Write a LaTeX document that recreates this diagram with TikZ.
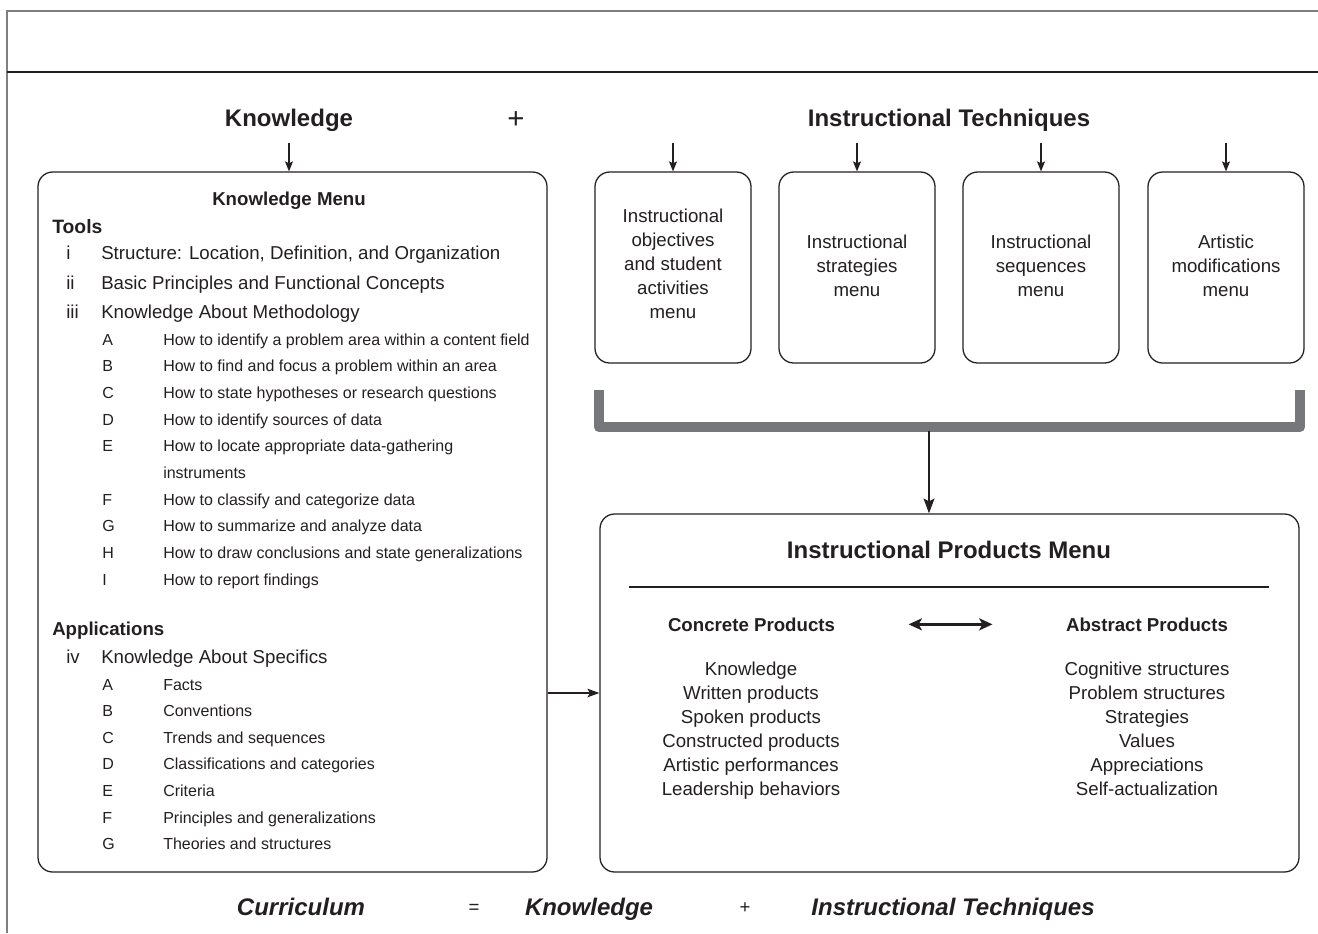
\documentclass[tikz,border=0pt]{standalone}
\usepackage{fontspec}
\setmainfont{Liberation Sans}
\usetikzlibrary{arrows.meta}
\definecolor{ink}{HTML}{231F20}
\definecolor{bar}{HTML}{76777A}
\definecolor{framegray}{HTML}{7F7F7F}
\begin{document}
\begin{tikzpicture}[x=0.75pt,y=-0.75pt,
  every node/.style={inner sep=0pt, text=ink},
  menubox/.style={draw=ink, line width=0.95pt, rounded corners=11pt, rectangle},
  heading/.style={font=\fontsize{18}{22}\selectfont\bfseries},
  bodytext/.style={font=\fontsize{14}{18}\selectfont},
  subtext/.style={font=\fontsize{12}{15}\selectfont},
  grouptitle/.style={font=\fontsize{14}{18}\selectfont\bfseries},
  formula/.style={font=\fontsize{18}{22}\selectfont\bfseries\itshape},
  arr/.style={draw=ink, line width=0.95pt, -{Stealth[length=7.5pt,width=6pt,inset=1.5pt]}},
  bigarr/.style={draw=ink, line width=1.8pt, -{Stealth[length=11pt,width=8pt,inset=2pt]}},
  dblarr/.style={draw=ink, line width=1.8pt, {Stealth[length=10pt,width=9pt,inset=2.5pt]}-{Stealth[length=10pt,width=9pt,inset=2.5pt]}},
  bracket/.style={draw=bar, line width=7.5pt, line join=round, line cap=butt}
]
\useasboundingbox (0,0) rectangle (1318,933);

% page frame and header rule
\draw[framegray, line width=2.2pt] (7,933) -- (7,11) -- (1318,11);
\draw[ink, line width=1.1pt] (7,72) -- (1318,72);

% headings
\node[heading, anchor=base] (kh) at (289,126.6) {Knowledge};
\node[anchor=base, font=\fontsize{22}{26}\selectfont] (plustop) at (516,128) {+};
\node[heading, anchor=base] (ith) at (949,126.6) {Instructional Techniques};

% knowledge menu box
\node[menubox, minimum width=381.75pt, minimum height=525pt] (kbox) at (292.5,522) {};
\coordinate (tk) at (289,143);
\draw[arr] (tk) -- (tk |- kbox.north);

\node[grouptitle, anchor=base] (kmt) at (289,205) {Knowledge Menu};
\node[grouptitle, anchor=base west, font=\fontsize{14.5}{18}\selectfont\bfseries] (tools) at (52,233) {Tools};
\foreach \r/\y/\t in {i/259.5/{Structure: Location, Definition, and Organization},
                      ii/289.5/{Basic Principles and Functional Concepts},
                      iii/318.5/{Knowledge About Methodology}} {
  \node[bodytext, anchor=base west] (rn-\r) at (66,\y) {\r};
  \node[bodytext, anchor=base west] (rt-\r) at (101,\y) {\t};
}
\foreach \l/\y/\t in {A/345/How to identify a problem area within a content field,
                      B/371.7/How to find and focus a problem within an area,
                      C/398.3/How to state hypotheses or research questions,
                      D/425/How to identify sources of data,
                      E/451.7/How to locate appropriate data-gathering,
                      F/505/How to classify and categorize data,
                      G/531.7/How to summarize and analyze data,
                      H/558.3/How to draw conclusions and state generalizations,
                      I/585/How to report findings} {
  \node[subtext, anchor=base west] (ml-\l) at (102,\y) {\l};
  \node[subtext, anchor=base west] (mt-\l) at (163,\y) {\t};
}
\node[subtext, anchor=base west] (mt-E2) at (163,478.3) {instruments};

\node[grouptitle, anchor=base west] (apps) at (52,635) {Applications};
\node[bodytext, anchor=base west] (rn-iv) at (66,663.5) {iv};
\node[bodytext, anchor=base west] (rt-iv) at (101,663.5) {Knowledge About Specifics};
\foreach \l/\y/\t in {A/690/Facts,
                      B/716.6/Conventions,
                      C/743.2/Trends and sequences,
                      D/769.8/Classifications and categories,
                      E/796.4/Criteria,
                      F/823/Principles and generalizations,
                      G/849.6/Theories and structures} {
  \node[subtext, anchor=base west] (al-\l) at (102,\y) {\l};
  \node[subtext, anchor=base west] (at-\l) at (163,\y) {\t};
}

% instructional technique menus
\foreach \n/\x in {1/673,2/857,3/1041,4/1226} {
  \node[menubox, minimum width=117pt, minimum height=143.25pt] (b\n) at (\x,267.5) {};
  \coordinate (t\n) at (\x,143);
  \draw[arr] (t\n) -- (b\n.north);
}
\node[bodytext, align=center] (b1t) at (673,264) {Instructional\\objectives\\and student\\activities\\menu};
\node[bodytext, align=center] (b2t) at (857,266) {Instructional\\strategies\\menu};
\node[bodytext, align=center] (b3t) at (1041,266) {Instructional\\sequences\\menu};
\node[bodytext, align=center] (b4t) at (1226,266) {Artistic\\modifications\\menu};

% bracket joining the four menus
\coordinate (brl) at (599,390);
\coordinate (brr) at (1300,390);
\draw[bracket] (brl) -- (599,427) -- (1300,427) -- (brr);

% instructional products menu
\node[menubox, minimum width=524.25pt, minimum height=268.5pt] (pbox) at (949.5,693) {};
\coordinate (bt) at (929,431);
\draw[bigarr] (bt) -- (bt |- pbox.north);

\node[heading, anchor=base] (pmt) at (949,558.6) {Instructional Products Menu};
\draw[ink, line width=0.9pt] (629,587) -- (1269,587);

\node[grouptitle, anchor=base] (cp) at (751.5,631) {Concrete Products};
\node[grouptitle, anchor=base] (ap) at (1147,631) {Abstract Products};
\draw[dblarr, shorten <=55pt, shorten >=55pt] (cp.east) -- (ap.west);

\node[bodytext, align=center] (cpl) at (751,731) {Knowledge\\Written products\\Spoken products\\Constructed products\\Artistic performances\\Leadership behaviors};
\node[bodytext, align=center] (apl) at (1147,729) {Cognitive structures\\Problem structures\\Strategies\\Values\\Appreciations\\Self-actualization};

% knowledge feeds the products
\draw[arr, -{Stealth[length=9pt,width=6.5pt,inset=2pt]}] (kbox.east |- pbox.west) -- (pbox.west);

% bottom formula
\node[formula, anchor=base] (fc) at (301,915.6) {Curriculum};
\node[bodytext, anchor=base] (feq) at (474,913.5) {=};
\node[formula, anchor=base] (fk) at (589,915.6) {Knowledge};
\node[bodytext, anchor=base] (fplus) at (745,913.5) {+};
\node[formula, anchor=base] (fit) at (953,915.6) {Instructional Techniques};
\end{tikzpicture}
\end{document}
